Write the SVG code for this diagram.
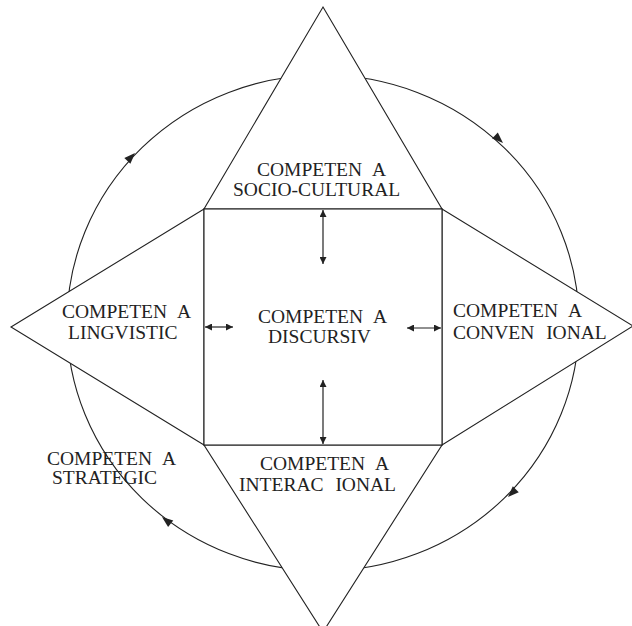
<svg xmlns="http://www.w3.org/2000/svg" width="632" height="626" viewBox="0 0 632 626">
<style>
.ln{fill:none;stroke:#222;stroke-width:1.1}
.sh{fill:#fff;stroke:#222;stroke-width:1.1}
.tx{font-family:"Liberation Serif","Times New Roman",serif;font-size:19.5px;fill:#222}
.da{fill:none;stroke:#222;stroke-width:1.2;marker-start:url(#ah);marker-end:url(#ah)}
</style>
<defs>
<marker id="ah" viewBox="0 0 10 10" refX="10" refY="5" markerWidth="9" markerHeight="7" markerUnits="userSpaceOnUse" orient="auto-start-reverse">
<path d="M0,0 L10,5 L0,10 Z" fill="#222"/>
</marker>
<path id="ch" d="M0,0 L-11,-4.2 L-11,4.2 Z" fill="#222"/>
</defs>
<rect width="632" height="626" fill="#fff"/>
<g id="cycle">
<ellipse class="ln" cx="323" cy="323" rx="256" ry="248"/>
<use href="#ch" transform="translate(135,153) rotate(-46)"/>
<use href="#ch" transform="translate(503,143) rotate(43)"/>
<use href="#ch" transform="translate(508,497) rotate(135)"/>
<use href="#ch" transform="translate(162,517) rotate(218)"/>
</g>
<g id="socio-cultural">
<polygon class="sh" points="323,7 442,209 204,209"/>
<text class="tx" x="257" y="176">COMPETEN <tspan dx="6">A</tspan></text>
<text class="tx" x="233" y="196">SOCIO-CULTURAL</text>
</g>
<g id="lingvistic">
<polygon class="sh" points="11,327 204,209 204,445"/>
<text class="tx" x="62" y="318">COMPETEN <tspan dx="6">A</tspan></text>
<text class="tx" x="68" y="339">LINGVISTIC</text>
</g>
<g id="conventional">
<polygon class="sh" points="633,326 442,209 442,445"/>
<text class="tx" x="453" y="317">COMPETEN <tspan dx="6">A</tspan></text>
<text class="tx" x="453" y="339">CONVEN <tspan dx="7">IONAL</tspan></text>
</g>
<g id="interactional">
<polygon class="sh" points="204,445 442,445 323,632"/>
<text class="tx" x="260" y="470">COMPETEN <tspan dx="6">A</tspan></text>
<text class="tx" x="239" y="491">INTERAC <tspan dx="7">IONAL</tspan></text>
</g>
<g id="discursiva">
<rect class="sh" x="204" y="209" width="238" height="236"/>
<text class="tx" x="258" y="323">COMPETEN <tspan dx="6">A</tspan></text>
<text class="tx" x="268" y="343">DISCURSIV</text>
</g>
<g id="strategic">
<text class="tx" x="47" y="465">COMPETEN <tspan dx="6">A</tspan></text>
<text class="tx" x="52" y="484">STRATEGIC</text>
</g>
<g id="connectors">
<line class="da" x1="323" y1="210" x2="323" y2="264"/>
<line class="da" x1="323" y1="380" x2="323" y2="444"/>
<line class="da" x1="205" y1="327" x2="233" y2="327"/>
<line class="da" x1="407" y1="328" x2="441" y2="328"/>
</g>
</svg>
